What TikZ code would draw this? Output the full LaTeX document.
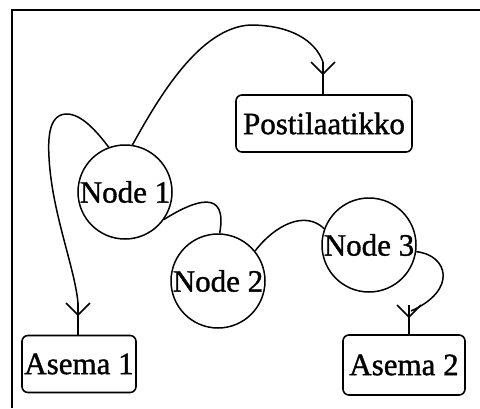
\documentclass[tikz,border=0pt]{standalone}
\usepackage{fontspec}
\setmainfont{Liberation Serif}[FakeBold=1.2]
\usetikzlibrary{decorations.markings}
\tikzset{
  lbl/.style={font=\fontsize{31}{36}\selectfont},
  station/.style={lbl, draw, line width=1.6pt, rounded corners=6pt, inner xsep=2pt, minimum height=57pt},
  nodecircle/.style={lbl, draw, circle, line width=1.5pt, minimum size=94pt, inner sep=0pt},
  wire/.style={line width=1.5pt},
  fork/.style={wire, postaction={decorate}, decoration={markings, mark=at position 12pt with {\draw[line width=1.5pt] (-12pt,12pt) -- (0,0) -- (-12pt,-12pt);}}},
}
\begin{document}
\begin{tikzpicture}[x=1pt,y=-1pt]
\useasboundingbox (0,0) rectangle (480,408);
\draw[line width=2pt] (11.5,408) -- (11.5,9.5) -- (480,9.5);

\node[station, minimum width=176pt] (post) at (324,123.5) {Postilaatikko};
\node[station, minimum width=114pt] (as1) at (79,364) {Asema 1};
\node[station, minimum width=122pt, minimum height=60pt] (as2) at (404,365) {Asema 2};

\node[nodecircle] (n1) at (125,192) {Node 1};
\node[nodecircle] (n2) at (218,281) {Node 2};
\node[nodecircle] (n3) at (369,245) {Node 3};

\coordinate (k1) at (323,62);
\coordinate (k2) at (78,303);
\coordinate (k3) at (409,305);

% Node 1 -> Postilaatikko
\draw[wire] (n1.81) .. controls (160,95) and (200,28) .. (250,25)
  .. controls (290,25) and (315,40) .. (k1);
\draw[fork] (k1) -- (k1 |- post.north);

% Node 1 -> Asema 1
\draw[wire] (n1.110) .. controls (92,125) and (78,113) .. (65,114)
  .. controls (48,116) and (47,140) .. (50,170)
  .. controls (55,220) and (75,270) .. (k2);
\draw[fork] (k2) -- (k2 |- as1.north);

% Node 1 -> Node 2
\draw[wire] (n1.-35) .. controls (195,200) and (228,188) .. (n2.88);

% Node 2 -> Node 3
\draw[wire] (n2.39) .. controls (275,225) and (305,210) .. (n3.160);

% Node 3 -> Asema 2
\draw[wire] (n3.-8) .. controls (448,255) and (458,290) .. (411,311);
\draw[fork] (k3) -- (k3 |- as2.north);
\end{tikzpicture}
\end{document}
